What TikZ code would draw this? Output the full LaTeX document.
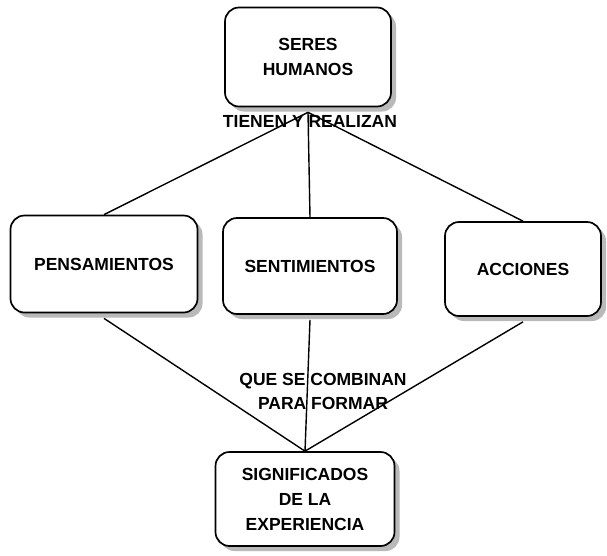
\documentclass[tikz,border=0pt]{standalone}
\usepackage{fontspec}
\setmainfont{Liberation Sans}
\usetikzlibrary{positioning, shadows}
\newcommand{\boxfont}{\fontsize{17.5}{25}\selectfont\bfseries}

\begin{document}
\begin{tikzpicture}[x=1pt, y=-1pt,
    conceptbox/.style={draw, line width=1.7pt, rounded corners=14pt, fill=white,
        align=center, font=\boxfont, inner sep=0pt,
        drop shadow={shadow xshift=5pt, shadow yshift=-5pt, fill=gray!55, opacity=1}},
    linklabel/.style={align=center, font=\boxfont, inner sep=0pt},
    link/.style={line width=1.4pt}]
        \useasboundingbox (0,0) rectangle (607,555);
        % concepts
        \node[conceptbox, minimum width=166pt, minimum height=99pt] (seres) at (308,57) {SERES\\HUMANOS};
        \node[conceptbox, minimum width=187pt, minimum height=97pt] (pens) at (104,264) {PENSAMIENTOS};
        \node[conceptbox, minimum width=174pt, minimum height=96pt] (sent) at (310,266) {SENTIMIENTOS};
        \node[conceptbox, minimum width=156pt, minimum height=94pt] (acc) at (523,269) {ACCIONES};
        \node[conceptbox, minimum width=179pt, minimum height=94pt] (signif) at (305,499) {SIGNIFICADOS\\DE LA\\EXPERIENCIA};
        % connectors
        \draw[link] ([yshift=-5pt]seres.south) -- (pens.north);
        \draw[link] ([yshift=-5pt]seres.south) -- (sent.north);
        \draw[link] ([yshift=-5pt]seres.south) -- (acc.north);
        \draw[link] ([yshift=-5pt]pens.south) -- (signif.north);
        \draw[link] ([yshift=-5pt]sent.south) -- (signif.north);
        \draw[link] ([yshift=-5pt]acc.south) -- (signif.north);
        % linking words
        \node[linklabel] (tienen) at (310,121) {TIENEN Y REALIZAN};
        \node[linklabel] (combinan) at (323,381) {QUE SE COMBINAN};
        \node[linklabel, below=8pt of combinan] (formar) {PARA FORMAR};
    \end{tikzpicture}
\end{document}
